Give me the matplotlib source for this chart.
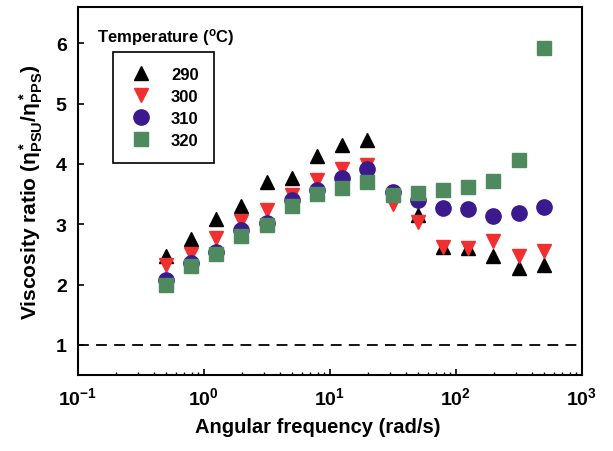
import numpy as np
import matplotlib
matplotlib.use('Agg')
import matplotlib.pyplot as plt

plt.rcParams['font.family'] = ['Liberation Sans', 'DejaVu Sans']
plt.rcParams['font.weight'] = 'bold'
plt.rcParams['mathtext.fontset'] = 'custom'
plt.rcParams['mathtext.rm'] = 'Liberation Sans:bold'
plt.rcParams['mathtext.it'] = 'Liberation Sans:bold'
plt.rcParams['mathtext.bf'] = 'Liberation Sans:bold'
plt.rcParams['mathtext.sf'] = 'Liberation Sans'
plt.rcParams['axes.unicode_minus'] = False

# angular frequency (rad/s)
freq = [0.5, 0.79, 1.26, 1.99, 3.15, 5.0, 7.9, 12.6, 19.9, 31.5,
        50.0, 79.0, 126.0, 199.0, 315.0, 500.0]

# viscosity ratio per temperature
ratio_290 = [2.48, 2.76, 3.08, 3.31, 3.70, 3.77, 4.14, 4.31, 4.39, 3.52,
             3.16, 2.63, 2.61, 2.47, 2.28, 2.33]
ratio_300 = [2.33, 2.50, 2.78, 3.06, 3.23, 3.49, 3.74, 3.91, 3.99, 3.33,
             3.03, 2.63, 2.60, 2.72, 2.48, 2.55]
ratio_310 = [2.08, 2.36, 2.54, 2.90, 3.02, 3.41, 3.56, 3.77, 3.91, 3.53,
             3.41, 3.27, 3.26, 3.13, 3.18, 3.29]
ratio_320 = [2.00, 2.30, 2.50, 2.81, 2.99, 3.30, 3.50, 3.60, 3.70, 3.49,
             3.52, 3.56, 3.62, 3.71, 4.06, 5.93]

labels = ['290', '300', '310', '320']

fig = plt.figure(figsize=(6.13, 4.52), dpi=100)
ax = fig.add_axes([0.127, 0.168, 0.822, 0.814])

ax.plot(freq, ratio_290, '^', color='black', ms=10, ls='none', label=labels[0])
ax.plot(freq, ratio_300, 'v', color='#f03030', ms=10, ls='none', label=labels[1])
ax.plot(freq, ratio_310, 'o', color='#3a1a8c', ms=11, ls='none', label=labels[2])
ax.plot(freq, ratio_320, 's', color='#4f8a5e', ms=9.5, ls='none', label=labels[3])

ax.axhline(1, color='black', lw=1.3, ls=(0, (6, 4)))

ax.set_xscale('log')
ax.set_xlim(0.1, 1000)
ax.set_ylim(0.5, 6.6)
ax.set_yticks([1, 2, 3, 4, 5, 6])

ax.tick_params(axis='both', which='both', direction='in', top=False, right=False,
               labelsize=14)
ax.tick_params(axis='both', which='major', length=4, width=1.2, pad=8)
ax.tick_params(axis='x', which='minor', length=2.5, width=1)
for s in ax.spines.values():
    s.set_linewidth(1.5)

ax.set_xlabel('Angular frequency (rad/s)', fontsize=14.5, fontweight='bold', labelpad=12)
ax.xaxis.set_label_coords(0.477, -0.115)
ax.set_ylabel(r'Viscosity ratio ($\mathsf{\eta}^*_{\mathregular{PSU}}/\mathsf{\eta}^*_{\mathregular{PPS}}$)',
              fontsize=15, fontweight='bold', labelpad=8)

leg = ax.legend(loc='upper left', bbox_to_anchor=(0.069, 0.878), borderaxespad=0,
                fancybox=False, edgecolor='black', framealpha=1,
                prop={'size': 12, 'weight': 'bold'}, handletextpad=1.0,
                labelspacing=0.42, borderpad=0.9, handlelength=1.6)
leg.get_frame().set_linewidth(1.2)

ax.text(0.038, 0.921, r'Temperature ($\mathregular{^oC}$)', transform=ax.transAxes,
        fontsize=12, fontweight='bold', va='center', ha='left')

fig.savefig('out.png', dpi=100)
